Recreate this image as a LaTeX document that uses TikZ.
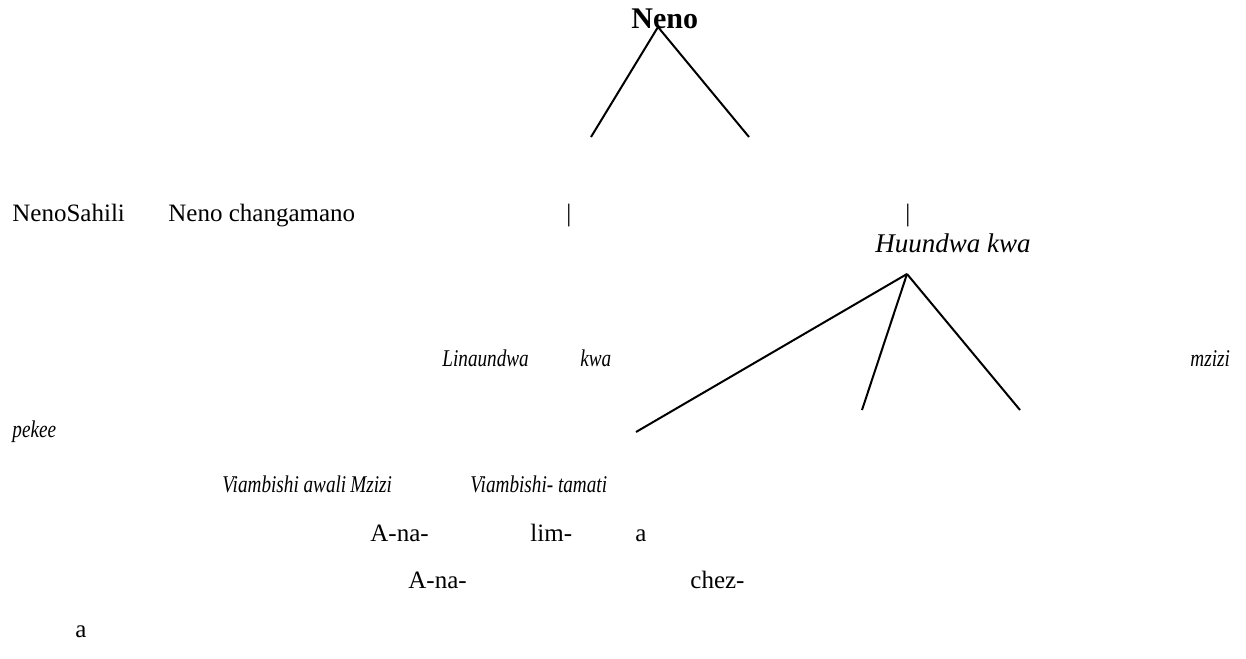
\documentclass[tikz,border=0pt]{standalone}
\usepackage{fontspec}
\setmainfont{Liberation Serif}
\newfontfamily\itfont[FakeStretch=0.8]{Liberation Serif Italic}
\usepackage{tikz}

\begin{document}
\begin{tikzpicture}[x=0.5pt,y=-0.5pt]
			\useasboundingbox (0,0) rectangle (1246,658);
			\tikzstyle{every node}=[inner sep=0pt, anchor=base west, font=\fontsize{12.5}{14}\selectfont]
			\tikzstyle{kwa}=[font=\itfont\fontsize{12}{14}\selectfont]
			\tikzstyle{tawi}=[line width=1pt]
			
			% juu kabisa
			\node[font=\bfseries\fontsize{15}{17}\selectfont] (neno) at (631,29) {Neno};
			\coordinate (n0) at (658,27);
			\coordinate (n1) at (591,137);
			\coordinate (n2) at (749,137);
			\draw[tawi] (n0) to (n1);
			\draw[tawi] (n0) to (n2);
			
			% safu ya pili
			\node (sahili) at (12,221) {NenoSahili};
			\node (changamano) at (168,221) {Neno changamano};
			\node (p1) at (566,221) {|};
			\node (p2) at (905,221) {|};
			\node[font=\itshape\fontsize{13.5}{15}\selectfont] (huundwa) at (875,252) {Huundwa kwa};
			
			\coordinate (h0) at (907,274);
			\coordinate (h1) at (636,432);
			\coordinate (h2) at (862,410);
			\coordinate (h3) at (1020,410);
			\draw[tawi] (h0) to (h1);
			\draw[tawi] (h0) to (h2);
			\draw[tawi] (h0) to (h3);
			
			\node[kwa] (linaundwa) at (442,366) {Linaundwa};
			\node[kwa] (kwa) at (580,366) {kwa};
			\node[kwa] (mzizi) at (1190,366) {mzizi};
			\node[kwa] (pekee) at (12,437) {pekee};
			
			% viambishi
			\node[kwa] (awali) at (222,492) {Viambishi awali};
			\node[kwa] (mz) at (350,492) {Mzizi};
			\node[kwa] (tamati) at (470,492) {Viambishi- tamati};
			
			\node (ana1) at (370,541) {A-na-};
			\node (lim) at (530,541) {lim-};
			\node (a1) at (635,541) {a};
			\node (ana2) at (408,588) {A-na-};
			\node (chez) at (690,588) {chez-};
			\node (a2) at (75,637) {a};
		\end{tikzpicture}
\end{document}
